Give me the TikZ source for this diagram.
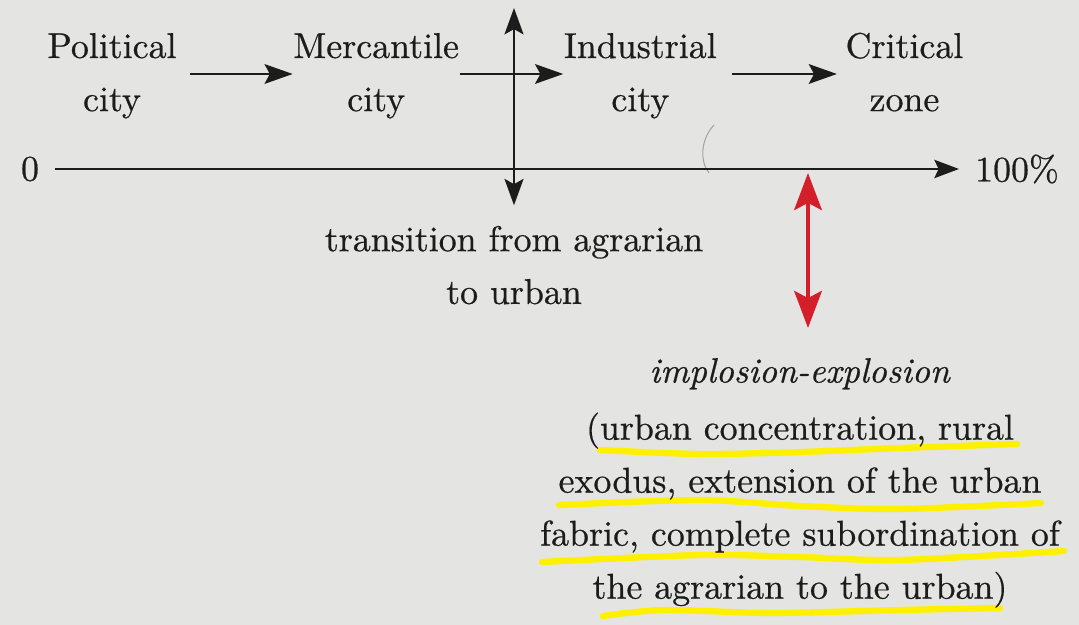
\documentclass[tikz,border=0pt]{standalone}
\usepackage{fontspec}
\setmainfont{Latin Modern Roman}[FakeBold=0.6]
\usetikzlibrary{arrows.meta}
\definecolor{paper}{RGB}{228,228,226}
\definecolor{ink}{RGB}{28,28,28}
\definecolor{burst}{RGB}{212,30,42}
\definecolor{marker}{RGB}{255,240,0}
\newcommand{\labelstrut}{\vrule height 10pt depth 4pt width 0pt}
\begin{document}
\begin{tikzpicture}[x=0.01cm,y=-0.01cm]
        \tikzstyle{main node}=[node distance=2.64cm,align=center,inner sep=0pt,text=ink,font=\fontsize{10.2}{15.1}\selectfont]
        \tikzstyle{text line}=[node distance=0.53cm,inner sep=0pt,text=ink,font=\fontsize{10.2}{15.1}\selectfont]
        \tikzstyle{flow}=[-{Stealth[length=8pt,width=5.6pt,inset=1.5pt]},line width=0.65pt,ink]
        \tikzstyle{both ways}=[{Stealth[length=7.5pt,width=5.4pt,inset=1.5pt]}-{Stealth[length=7.5pt,width=5.4pt,inset=1.5pt]},line width=0.65pt,ink]
        \tikzstyle{axis line}=[-{Stealth[length=7pt,width=5.2pt,inset=1.2pt]},line width=0.65pt,ink]
        \tikzstyle{burst arrow}=[{Stealth[length=10.5pt,width=7.8pt,inset=2pt]}-{Stealth[length=10.5pt,width=7.8pt,inset=2pt]},line width=1.4pt,burst]
        \tikzstyle{marker line}=[marker,line width=1.8pt,line cap=round]
        \fill[paper] (0,0) rectangle (1079,625);
        \useasboundingbox (0,0) rectangle (1079,625);
        \draw[marker line] plot[smooth] coordinates {(600,450) (700,454) (800,452) (900,448) (1017,444)};
        \draw[marker line] plot[smooth] coordinates {(559,505) (700,500) (800,506) (900,509) (1041,503)};
        \draw[marker line] plot[smooth] coordinates {(542,562) (700,555) (800,557) (900,560) (1064,551)};
        \draw[marker line] plot[smooth] coordinates {(603,616) (664,610) (771,613) (900,610) (1000,608)};
        \draw[gray!70,line width=0.3pt] (714,125) .. controls (700,140) and (700,162) .. (709,173);
        \node[main node] (Political) at (112,74) {\labelstrut Political\\city\labelstrut};
        \node[main node] (Mercantile) [right of=Political] {\labelstrut Mercantile\\city\labelstrut};
        \node[main node] (Industrial) [right of=Mercantile] {\labelstrut Industrial\\city\labelstrut};
        \node[main node] (Critical) [right of=Industrial] {\labelstrut Critical\\zone\labelstrut};
        \node[text line,inner sep=4.4pt] (zero) at (30,169) {0};
        \node[text line,inner sep=4.4pt] (hundred) at (1017,169) {100\%};
        \node[main node,font=\fontsize{10.2}{13.9}\selectfont] (transition) at (514,267) {\labelstrut transition from agrarian\\to urban\labelstrut};
        \node[text line,font=\fontsize{10}{15.1}\selectfont] (implosion) at (800,372) {\labelstrut\textit{implosion-explosion}\labelstrut};
        \node[text line,node distance=0.57cm] (concentration) [below of=implosion] {\labelstrut(urban concentration, rural\labelstrut};
        \node[text line] (exodus) [below of=concentration] {\labelstrut exodus, extension of the urban\labelstrut};
        \node[text line] (fabric) [below of=exodus] {\labelstrut fabric, complete subordination of\labelstrut};
        \node[text line] (agrarian) [below of=fabric] {\labelstrut the agrarian to the urban)\labelstrut};
        \coordinate (shiftTop) at (514,8);
        \coordinate (burstTop) at (808,173);
        \coordinate (burstBottom) at (808,328);
        \draw[flow,shorten <=0.13cm] (Political) -- (Mercantile);
        \draw[flow] (Mercantile) -- (Industrial);
        \draw[flow,shorten <=0.15cm,shorten >=0.08cm] (Industrial) -- (Critical);
        \draw[axis line] (zero) -- (hundred);
        \draw[both ways,shorten >=0.1cm] (shiftTop) -- (transition);
        \draw[burst arrow] (burstTop) -- (burstBottom);
\end{tikzpicture}
\end{document}
